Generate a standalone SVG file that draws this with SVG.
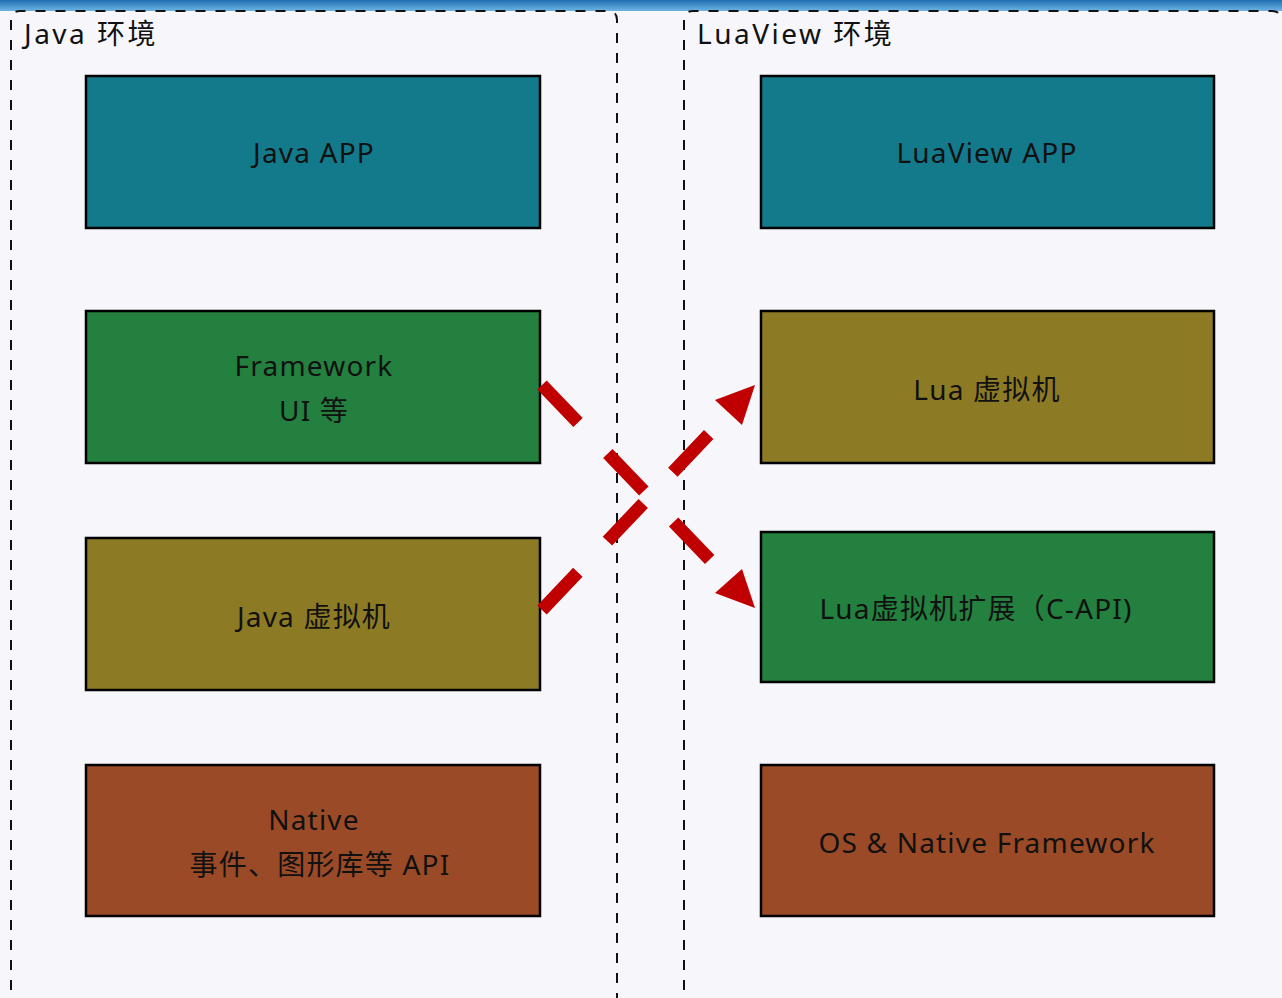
<svg xmlns="http://www.w3.org/2000/svg" width="1282" height="998" viewBox="0 0 1282 998">
<defs>
<linearGradient id="bar" x1="0" y1="0" x2="0" y2="1">
<stop offset="0" stop-color="#1f6fb0"/>
<stop offset="1" stop-color="#6fb4e6"/>
</linearGradient>
<style>
.box{stroke:#000;stroke-width:2.5}
.lbl{font-family:"Noto Sans","Noto Sans CJK SC",sans-serif;font-size:28px;fill:#111;text-anchor:middle;dominant-baseline:central;letter-spacing:1.2px}
.ttl{font-family:"Noto Sans","Noto Sans CJK SC",sans-serif;font-size:28px;fill:#111;letter-spacing:2.5px}
.grp{fill:none;stroke:#111;stroke-width:2;stroke-dasharray:10 10}
.conn{fill:none;stroke:#c00000;stroke-width:13;stroke-dasharray:52 43}
</style>
</defs>
<rect width="1282" height="998" fill="#f6f6fb"/>
<rect width="1282" height="11" fill="url(#bar)"/>
<g id="java-env">
<path class="grp" d="M11,1010 L11,20 Q11,11 20,11 L608,11 Q617,11 617,20 L617,1010"/>
<text class="ttl" x="24" y="44">Java 环境</text>
</g>
<g id="luaview-env">
<path class="grp" d="M684,1010 L684,20 Q684,11 693,11 L1272,11 Q1281,11 1281,20"/>
<text class="ttl" x="697" y="44">LuaView 环境</text>
</g>
<g id="java-app">
<rect class="box" x="86" y="76" width="454" height="152" fill="#137a8c"/>
<text class="lbl" x="314" y="152">Java APP</text>
</g>
<g id="framework">
<rect class="box" x="86" y="311" width="454" height="152" fill="#23803f"/>
<text class="lbl" x="314" y="365">Framework</text>
<text class="lbl" x="314" y="410">UI 等</text>
</g>
<g id="java-vm">
<rect class="box" x="86" y="538" width="454" height="152" fill="#8c7a25"/>
<text class="lbl" x="314" y="616">Java 虚拟机</text>
</g>
<g id="native">
<rect class="box" x="86" y="765" width="454" height="151" fill="#9a4a26"/>
<text class="lbl" x="314" y="819">Native</text>
<text class="lbl" x="320" y="864">事件、图形库等 API</text>
</g>
<g id="luaview-app">
<rect class="box" x="761" y="76" width="453" height="152" fill="#137a8c"/>
<text class="lbl" x="987" y="152">LuaView APP</text>
</g>
<g id="lua-vm">
<rect class="box" x="761" y="311" width="453" height="152" fill="#8c7a25"/>
<text class="lbl" x="987" y="389">Lua 虚拟机</text>
</g>
<g id="lua-ext">
<rect class="box" x="761" y="532" width="453" height="150" fill="#23803f"/>
<text class="lbl" x="976" y="608">Lua虚拟机扩展（C-API)</text>
</g>
<g id="os-native">
<rect class="box" x="761" y="765" width="453" height="151" fill="#9a4a26"/>
<text class="lbl" x="987" y="842">OS &amp; Native Framework</text>
</g>
<g id="connectors">
<path class="conn" d="M542,385 L713,563"/>
<path d="M755,608 L715,593 L742,569 Z" fill="#c00000"/>
<path class="conn" d="M542,610 L713,430"/>
<path d="M755,385 L715,400 L742,425 Z" fill="#c00000"/>
</g>
</svg>
